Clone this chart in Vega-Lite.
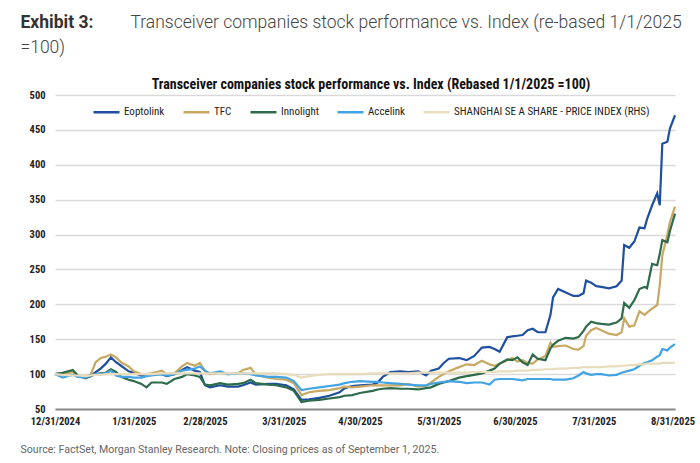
{
  "$schema": "https://vega.github.io/schema/vega-lite/v6.json",
  "width": 620,
  "height": 314,
  "autosize": {"type": "none"},
  "padding": {"left": 55, "top": 95, "right": 25, "bottom": 54},
  "background": "white",
  "data": {
    "values": [
      {"date": "2024-12-31", "Eoptolink": 100, "TFC": 100, "Innolight": 100, "Accelink": 100, "Index": 100},
      {"date": "2025-01-03", "Eoptolink": 101, "TFC": 99, "Innolight": 102, "Accelink": 95, "Index": 99},
      {"date": "2025-01-07", "Eoptolink": 104, "TFC": 103, "Innolight": 106, "Accelink": 99, "Index": 98},
      {"date": "2025-01-09", "Eoptolink": 97, "TFC": 97, "Innolight": 98, "Accelink": 96, "Index": 98},
      {"date": "2025-01-12", "Eoptolink": 96, "TFC": 97, "Innolight": 94, "Accelink": 95, "Index": 97},
      {"date": "2025-01-14", "Eoptolink": 97, "TFC": 99, "Innolight": 97, "Accelink": 98, "Index": 98},
      {"date": "2025-01-16", "Eoptolink": 103, "TFC": 117, "Innolight": 100, "Accelink": 100, "Index": 99},
      {"date": "2025-01-18", "Eoptolink": 108, "TFC": 123, "Innolight": 101, "Accelink": 100, "Index": 99},
      {"date": "2025-01-20", "Eoptolink": 115, "TFC": 125, "Innolight": 102, "Accelink": 101, "Index": 100},
      {"date": "2025-01-22", "Eoptolink": 124, "TFC": 128, "Innolight": 107, "Accelink": 105, "Index": 100},
      {"date": "2025-01-24", "Eoptolink": 117, "TFC": 124, "Innolight": 103, "Accelink": 98, "Index": 100},
      {"date": "2025-01-26", "Eoptolink": 112, "TFC": 117, "Innolight": 96, "Accelink": 96, "Index": 100},
      {"date": "2025-01-29", "Eoptolink": 104, "TFC": 111, "Innolight": 92, "Accelink": 96, "Index": 100},
      {"date": "2025-01-31", "Eoptolink": 102, "TFC": 104, "Innolight": 90, "Accelink": 95, "Index": 100},
      {"date": "2025-02-03", "Eoptolink": 98, "TFC": 100, "Innolight": 86, "Accelink": 95, "Index": 100},
      {"date": "2025-02-05", "Eoptolink": 99, "TFC": 100, "Innolight": 81, "Accelink": 97, "Index": 100},
      {"date": "2025-02-07", "Eoptolink": 100, "TFC": 101, "Innolight": 88, "Accelink": 98, "Index": 100},
      {"date": "2025-02-11", "Eoptolink": 100, "TFC": 105, "Innolight": 88, "Accelink": 100, "Index": 101},
      {"date": "2025-02-13", "Eoptolink": 97, "TFC": 100, "Innolight": 86, "Accelink": 98, "Index": 101},
      {"date": "2025-02-16", "Eoptolink": 100, "TFC": 101, "Innolight": 93, "Accelink": 100, "Index": 101},
      {"date": "2025-02-19", "Eoptolink": 106, "TFC": 111, "Innolight": 96, "Accelink": 105, "Index": 101},
      {"date": "2025-02-21", "Eoptolink": 110, "TFC": 116, "Innolight": 100, "Accelink": 106, "Index": 101},
      {"date": "2025-02-24", "Eoptolink": 105, "TFC": 112, "Innolight": 98, "Accelink": 108, "Index": 101},
      {"date": "2025-02-26", "Eoptolink": 103, "TFC": 116, "Innolight": 96, "Accelink": 111, "Index": 101},
      {"date": "2025-02-28", "Eoptolink": 84, "TFC": 105, "Innolight": 85, "Accelink": 105, "Index": 101},
      {"date": "2025-03-02", "Eoptolink": 81, "TFC": 100, "Innolight": 84, "Accelink": 101, "Index": 101},
      {"date": "2025-03-06", "Eoptolink": 84, "TFC": 102, "Innolight": 87, "Accelink": 104, "Index": 101},
      {"date": "2025-03-09", "Eoptolink": 82, "TFC": 100, "Innolight": 85, "Accelink": 100, "Index": 101},
      {"date": "2025-03-13", "Eoptolink": 82, "TFC": 101, "Innolight": 86, "Accelink": 101, "Index": 101},
      {"date": "2025-03-15", "Eoptolink": 84, "TFC": 106, "Innolight": 87, "Accelink": 101, "Index": 101},
      {"date": "2025-03-18", "Eoptolink": 88, "TFC": 109, "Innolight": 92, "Accelink": 100, "Index": 101},
      {"date": "2025-03-20", "Eoptolink": 85, "TFC": 99, "Innolight": 87, "Accelink": 98, "Index": 101},
      {"date": "2025-03-25", "Eoptolink": 86, "TFC": 95, "Innolight": 85, "Accelink": 96, "Index": 101},
      {"date": "2025-03-28", "Eoptolink": 86, "TFC": 93, "Innolight": 84, "Accelink": 96, "Index": 101},
      {"date": "2025-04-01", "Eoptolink": 84, "TFC": 92, "Innolight": 81, "Accelink": 95, "Index": 100},
      {"date": "2025-04-04", "Eoptolink": 78, "TFC": 87, "Innolight": 76, "Accelink": 90, "Index": 99},
      {"date": "2025-04-07", "Eoptolink": 63, "TFC": 70, "Innolight": 60, "Accelink": 77, "Index": 95},
      {"date": "2025-04-10", "Eoptolink": 64, "TFC": 74, "Innolight": 62, "Accelink": 79, "Index": 97},
      {"date": "2025-04-14", "Eoptolink": 66, "TFC": 76, "Innolight": 63, "Accelink": 81, "Index": 99},
      {"date": "2025-04-18", "Eoptolink": 69, "TFC": 77, "Innolight": 65, "Accelink": 83, "Index": 100},
      {"date": "2025-04-22", "Eoptolink": 74, "TFC": 80, "Innolight": 67, "Accelink": 85, "Index": 100},
      {"date": "2025-04-24", "Eoptolink": 80, "TFC": 82, "Innolight": 69, "Accelink": 87, "Index": 100},
      {"date": "2025-04-27", "Eoptolink": 83, "TFC": 81, "Innolight": 70, "Accelink": 89, "Index": 100},
      {"date": "2025-04-30", "Eoptolink": 84, "TFC": 82, "Innolight": 73, "Accelink": 90, "Index": 100},
      {"date": "2025-05-05", "Eoptolink": 85, "TFC": 84, "Innolight": 76, "Accelink": 89, "Index": 101},
      {"date": "2025-05-07", "Eoptolink": 88, "TFC": 84, "Innolight": 78, "Accelink": 89, "Index": 101},
      {"date": "2025-05-09", "Eoptolink": 96, "TFC": 84, "Innolight": 79, "Accelink": 88, "Index": 101},
      {"date": "2025-05-12", "Eoptolink": 103, "TFC": 84, "Innolight": 80, "Accelink": 87, "Index": 101},
      {"date": "2025-05-16", "Eoptolink": 104, "TFC": 84, "Innolight": 79, "Accelink": 86, "Index": 101},
      {"date": "2025-05-19", "Eoptolink": 103, "TFC": 86, "Innolight": 79, "Accelink": 85, "Index": 101},
      {"date": "2025-05-23", "Eoptolink": 104, "TFC": 82, "Innolight": 78, "Accelink": 84, "Index": 102},
      {"date": "2025-05-26", "Eoptolink": 98, "TFC": 83, "Innolight": 80, "Accelink": 84, "Index": 102},
      {"date": "2025-05-28", "Eoptolink": 105, "TFC": 88, "Innolight": 81, "Accelink": 86, "Index": 102},
      {"date": "2025-05-31", "Eoptolink": 108, "TFC": 96, "Innolight": 86, "Accelink": 88, "Index": 102},
      {"date": "2025-06-02", "Eoptolink": 116, "TFC": 100, "Innolight": 88, "Accelink": 89, "Index": 102},
      {"date": "2025-06-04", "Eoptolink": 122, "TFC": 104, "Innolight": 90, "Accelink": 90, "Index": 102},
      {"date": "2025-06-08", "Eoptolink": 123, "TFC": 110, "Innolight": 95, "Accelink": 89, "Index": 102},
      {"date": "2025-06-11", "Eoptolink": 120, "TFC": 114, "Innolight": 97, "Accelink": 87, "Index": 102},
      {"date": "2025-06-14", "Eoptolink": 126, "TFC": 113, "Innolight": 99, "Accelink": 88, "Index": 103},
      {"date": "2025-06-17", "Eoptolink": 138, "TFC": 119, "Innolight": 101, "Accelink": 88, "Index": 103},
      {"date": "2025-06-20", "Eoptolink": 139, "TFC": 114, "Innolight": 105, "Accelink": 85, "Index": 103},
      {"date": "2025-06-22", "Eoptolink": 136, "TFC": 112, "Innolight": 108, "Accelink": 92, "Index": 103},
      {"date": "2025-06-24", "Eoptolink": 132, "TFC": 115, "Innolight": 115, "Accelink": 93, "Index": 104},
      {"date": "2025-06-27", "Eoptolink": 153, "TFC": 120, "Innolight": 121, "Accelink": 93, "Index": 104},
      {"date": "2025-06-29", "Eoptolink": 154, "TFC": 123, "Innolight": 120, "Accelink": 93, "Index": 104},
      {"date": "2025-07-01", "Eoptolink": 155, "TFC": 118, "Innolight": 124, "Accelink": 92, "Index": 105},
      {"date": "2025-07-03", "Eoptolink": 156, "TFC": 120, "Innolight": 117, "Accelink": 91, "Index": 105},
      {"date": "2025-07-05", "Eoptolink": 163, "TFC": 116, "Innolight": 113, "Accelink": 93, "Index": 105},
      {"date": "2025-07-07", "Eoptolink": 165, "TFC": 115, "Innolight": 128, "Accelink": 93, "Index": 106},
      {"date": "2025-07-09", "Eoptolink": 160, "TFC": 121, "Innolight": 122, "Accelink": 93, "Index": 106},
      {"date": "2025-07-12", "Eoptolink": 160, "TFC": 126, "Innolight": 120, "Accelink": 93, "Index": 107},
      {"date": "2025-07-14", "Eoptolink": 185, "TFC": 145, "Innolight": 137, "Accelink": 93, "Index": 107},
      {"date": "2025-07-15", "Eoptolink": 210, "TFC": 139, "Innolight": 142, "Accelink": 92, "Index": 107},
      {"date": "2025-07-17", "Eoptolink": 222, "TFC": 140, "Innolight": 148, "Accelink": 92, "Index": 108},
      {"date": "2025-07-20", "Eoptolink": 217, "TFC": 141, "Innolight": 152, "Accelink": 92, "Index": 108},
      {"date": "2025-07-23", "Eoptolink": 212, "TFC": 136, "Innolight": 151, "Accelink": 94, "Index": 109},
      {"date": "2025-07-25", "Eoptolink": 212, "TFC": 135, "Innolight": 153, "Accelink": 98, "Index": 109},
      {"date": "2025-07-27", "Eoptolink": 216, "TFC": 140, "Innolight": 162, "Accelink": 103, "Index": 110},
      {"date": "2025-07-28", "Eoptolink": 234, "TFC": 155, "Innolight": 168, "Accelink": 101, "Index": 110},
      {"date": "2025-07-30", "Eoptolink": 231, "TFC": 163, "Innolight": 175, "Accelink": 99, "Index": 110},
      {"date": "2025-08-01", "Eoptolink": 226, "TFC": 166, "Innolight": 173, "Accelink": 100, "Index": 110},
      {"date": "2025-08-03", "Eoptolink": 225, "TFC": 163, "Innolight": 172, "Accelink": 100, "Index": 110},
      {"date": "2025-08-06", "Eoptolink": 223, "TFC": 158, "Innolight": 171, "Accelink": 98, "Index": 111},
      {"date": "2025-08-09", "Eoptolink": 226, "TFC": 156, "Innolight": 174, "Accelink": 99, "Index": 111},
      {"date": "2025-08-11", "Eoptolink": 234, "TFC": 160, "Innolight": 180, "Accelink": 102, "Index": 112},
      {"date": "2025-08-12", "Eoptolink": 285, "TFC": 180, "Innolight": 202, "Accelink": 103, "Index": 112},
      {"date": "2025-08-14", "Eoptolink": 281, "TFC": 168, "Innolight": 195, "Accelink": 105, "Index": 113},
      {"date": "2025-08-16", "Eoptolink": 290, "TFC": 170, "Innolight": 206, "Accelink": 107, "Index": 113},
      {"date": "2025-08-18", "Eoptolink": 310, "TFC": 190, "Innolight": 222, "Accelink": 112, "Index": 114},
      {"date": "2025-08-20", "Eoptolink": 309, "TFC": 185, "Innolight": 225, "Accelink": 116, "Index": 114},
      {"date": "2025-08-21", "Eoptolink": 322, "TFC": 188, "Innolight": 223, "Accelink": 117, "Index": 115},
      {"date": "2025-08-23", "Eoptolink": 342, "TFC": 194, "Innolight": 258, "Accelink": 120, "Index": 115},
      {"date": "2025-08-25", "Eoptolink": 359, "TFC": 199, "Innolight": 256, "Accelink": 125, "Index": 115},
      {"date": "2025-08-26", "Eoptolink": 342, "TFC": 228, "Innolight": 272, "Accelink": 127, "Index": 115},
      {"date": "2025-08-27", "Eoptolink": 430, "TFC": 270, "Innolight": 292, "Accelink": 136, "Index": 116},
      {"date": "2025-08-29", "Eoptolink": 433, "TFC": 300, "Innolight": 289, "Accelink": 134, "Index": 116},
      {"date": "2025-08-30", "Eoptolink": 452, "TFC": 318, "Innolight": 305, "Accelink": 138, "Index": 116},
      {"date": "2025-09-01", "Eoptolink": 471, "TFC": 340, "Innolight": 330, "Accelink": 143, "Index": 116}
    ]
  },
  "transform": [
    {"fold": ["Eoptolink", "TFC", "Innolight", "Accelink", "Index"], "as": ["series", "value"]}
  ],
  "layer": [
    {
      "transform": [{"filter": "datum.series != 'Index'"}],
      "mark": {"type": "line", "strokeWidth": 2.2, "interpolate": "linear"},
      "encoding": {
        "x": {
          "field": "date",
          "type": "temporal",
          "scale": {
            "type": "utc",
            "domain": [
              {"year": 2024, "month": 12, "date": 31, "utc": true},
              {"year": 2025, "month": 9, "date": 1, "utc": true}
            ]
          },
          "axis": {
            "values": [
              {"year": 2024, "month": 12, "date": 31, "utc": true},
              {"year": 2025, "month": 1, "date": 31, "utc": true},
              {"year": 2025, "month": 2, "date": 28, "utc": true},
              {"year": 2025, "month": 3, "date": 31, "utc": true},
              {"year": 2025, "month": 4, "date": 30, "utc": true},
              {"year": 2025, "month": 5, "date": 31, "utc": true},
              {"year": 2025, "month": 6, "date": 30, "utc": true},
              {"year": 2025, "month": 7, "date": 31, "utc": true},
              {"year": 2025, "month": 8, "date": 31, "utc": true}
            ],
            "labelExpr": "utcFormat(datum.value, '%-m/%-d/%Y')",
            "labelOverlap": false,
            "labelFlush": false,
            "grid": false,
            "ticks": false,
            "domainColor": "#8a8a8a",
            "domainWidth": 2,
            "labelPadding": 7,
            "labelFont": "Roboto Condensed, Liberation Sans Narrow, DejaVu Sans Condensed, Roboto",
            "labelFontWeight": "bold",
            "labelFontSize": 10.5,
            "labelColor": "#222222",
            "title": "Source: FactSet, Morgan Stanley Research. Note: Closing prices as of September 1, 2025.",
            "titleX": -35,
            "titleY": 40,
            "titleAlign": "left",
            "titleAnchor": "start",
            "titleBaseline": "middle",
            "titleFont": "Roboto",
            "titleFontSize": 10.6,
            "titleFontWeight": "normal",
            "titleColor": "#666666"
          }
        },
        "y": {
          "field": "value",
          "type": "quantitative",
          "scale": {"domain": [50, 500], "nice": false, "zero": false},
          "axis": {
            "values": [50, 100, 150, 200, 250, 300, 350, 400, 450, 500],
            "title": "Transceiver companies stock performance vs. Index (re-based 1/1/2025",
            "titleAngle": 0,
            "titleX": 75,
            "titleY": -73,
            "titleAlign": "left",
            "titleAnchor": "start",
            "titleBaseline": "middle",
            "titleFont": "Roboto",
            "titleFontSize": 17.5,
            "titleFontWeight": 300,
            "titleColor": "#444444",
            "domain": false,
            "ticks": false,
            "labelPadding": 10,
            "labelFont": "Roboto Condensed, Liberation Sans Narrow, DejaVu Sans Condensed, Roboto",
            "labelFontWeight": "bold",
            "labelFontSize": 10.5,
            "labelColor": "#222222",
            "gridColor": "#d9d9d9",
            "gridWidth": 1.5
          }
        },
        "color": {
          "field": "series",
          "type": "nominal",
          "sort": null,
          "scale": {
            "domain": ["Eoptolink", "TFC", "Innolight", "Accelink", "Index"],
            "range": ["#1f4f9f", "#c8a862", "#2e6b4a", "#41a3e3", "#e8dcbc"]
          },
          "legend": {
            "orient": "none",
            "legendX": 37,
            "legendY": -17,
            "direction": "horizontal",
            "title": "Transceiver companies stock performance vs. Index (Rebased 1/1/2025 =100)",
            "titleOrient": "top",
            "titleAnchor": "middle",
            "titleFont": "Roboto Condensed, Liberation Sans Narrow, DejaVu Sans Condensed, Roboto",
            "titleFontSize": 14,
            "titleFontWeight": "bold",
            "titleColor": "#111111",
            "titlePadding": 5.5,
            "titleLimit": 700,
            "symbolType": "stroke",
            "symbolSize": 676,
            "symbolStrokeWidth": 2.5,
            "labelOffset": 3,
            "columnPadding": 13,
            "labelFont": "Roboto Condensed, Liberation Sans Narrow, DejaVu Sans Condensed, Roboto",
            "labelFontSize": 11,
            "labelColor": "#222222",
            "labelLimit": 300,
            "labelExpr": "datum.label == 'Index' ? 'SHANGHAI SE A SHARE - PRICE INDEX (RHS)' : datum.label"
          }
        }
      }
    },
    {
      "transform": [{"filter": "datum.series == 'Index'"}],
      "mark": {"type": "line", "strokeWidth": 2.2, "interpolate": "linear"},
      "encoding": {
        "x": {
          "field": "date",
          "type": "temporal",
          "scale": {
            "type": "utc",
            "domain": [
              {"year": 2024, "month": 12, "date": 31, "utc": true},
              {"year": 2025, "month": 9, "date": 1, "utc": true}
            ]
          },
          "axis": {
            "orient": "top",
            "labels": false,
            "ticks": false,
            "domain": false,
            "grid": false,
            "title": "Exhibit 3:",
            "titleX": -35,
            "titleY": -73,
            "titleAlign": "left",
            "titleAnchor": "start",
            "titleBaseline": "middle",
            "titleFont": "Roboto",
            "titleFontSize": 17.5,
            "titleFontWeight": "bold",
            "titleColor": "#333333"
          }
        },
        "y": {
          "field": "value",
          "type": "quantitative",
          "scale": {"domain": [50, 500], "nice": false, "zero": false},
          "axis": {
            "orient": "right",
            "labels": false,
            "ticks": false,
            "domain": false,
            "grid": false,
            "title": "=100)",
            "titleAngle": 0,
            "titleX": -655,
            "titleY": -48,
            "titleAlign": "left",
            "titleAnchor": "start",
            "titleBaseline": "middle",
            "titleFont": "Roboto",
            "titleFontSize": 17.5,
            "titleFontWeight": 300,
            "titleColor": "#444444"
          }
        },
        "color": {
          "field": "series",
          "type": "nominal",
          "sort": null,
          "scale": {
            "domain": ["Eoptolink", "TFC", "Innolight", "Accelink", "Index"],
            "range": ["#1f4f9f", "#c8a862", "#2e6b4a", "#41a3e3", "#e8dcbc"]
          }
        }
      }
    }
  ],
  "resolve": {
    "scale": {"x": "independent", "y": "independent"}
  },
  "config": {
    "view": {"stroke": null},
    "font": "Roboto"
  }
}
